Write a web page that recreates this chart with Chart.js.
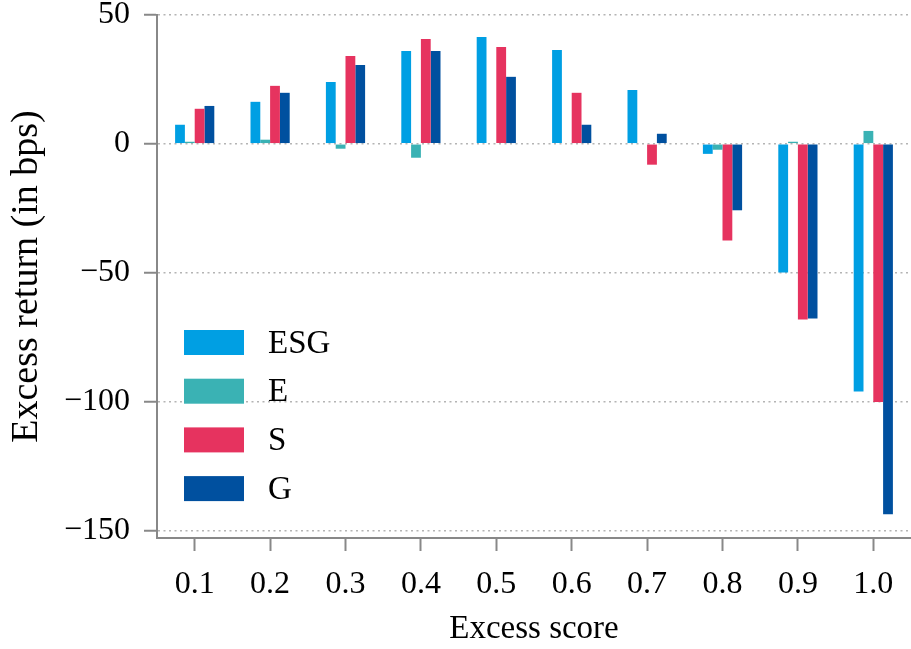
<!DOCTYPE html>
<html>
<head>
<meta charset="utf-8">
<script src="https://cdn.jsdelivr.net/npm/chart.js@4.4.0/dist/chart.umd.min.js"></script>
<style>
  html, body { margin: 0; padding: 0; background: #fff; }
  #wrap { position: relative; width: 911px; height: 649px; }
</style>
</head>
<body>
<div id="wrap"><canvas id="chart" width="911" height="649"></canvas></div>
<script>
// excess score buckets
const scores = ["0.1", "0.2", "0.3", "0.4", "0.5", "0.6", "0.7", "0.8", "0.9", "1.0"];

// excess return in bps
const esg = [7.4, 16.3, 24.0, 36.0, 41.5, 36.4, 20.9, -3.9, -49.9, -96.1];
const env = [0.8, 1.6, -1.9, -5.4, -0.3, -0.3, -0.3, -2.3, 0.8, 5.0];
const soc = [13.6, 22.5, 34.1, 40.7, 37.6, 19.8, -8.1, -37.5, -68.2, -100.2];
const gov = [14.7, 19.8, 30.6, 36.0, 26.0, 7.4, 3.9, -25.8, -67.8, -143.8];

const seriesNames = ["ESG", "E", "S", "G"];
const seriesColors = ["#009fe3", "#3ab2b4", "#e6335f", "#00509f"];
const yTicks = [50, 0, -50, -100, -150];

const FONT = "'Liberation Serif', 'Times New Roman', serif";
Chart.defaults.font.family = FONT;
Chart.defaults.color = "#000";

// legend drawn inside the plot, lower left
const innerLegend = {
  id: "innerLegend",
  afterDraw(chart) {
    const ctx = chart.ctx;
    const ca = chart.chartArea;
    const x = ca.left + 27;
    let y = ca.bottom - 208;
    ctx.save();
    ctx.font = "33px " + FONT;
    ctx.textBaseline = "middle";
    ctx.textAlign = "left";
    chart.data.datasets.forEach(function(ds) {
      ctx.fillStyle = ds.backgroundColor;
      ctx.fillRect(x, y, 60, 25);
      ctx.fillStyle = "#000";
      ctx.fillText(ds.label, x + 84, y + 14);
      y = y + 48.7;
    });
    ctx.restore();
  }
};

const allValues = [esg, env, soc, gov];
const datasets = allValues.map(function(vals, i) {
  return {
    label: seriesNames[i],
    data: vals,
    backgroundColor: seriesColors[i],
    borderWidth: 0,
    categoryPercentage: 0.52,
    barPercentage: 1.0
  };
});

new Chart(document.getElementById("chart"), {
  type: "bar",
  data: { labels: scores, datasets: datasets },
  options: {
    responsive: false,
    animation: false,
    layout: { padding: { top: 15, right: 0, left: 0, bottom: 0 } },
    plugins: {
      legend: { display: false },
      tooltip: { enabled: false }
    },
    scales: {
      x: {
        afterFit: function(s) { s.height = 111; },
        ticks: { font: { size: 32 }, color: "#000", padding: 14, maxRotation: 0 },
        grid: {
          offset: false,
          drawOnChartArea: false,
          tickLength: 13,
          tickColor: "#888",
          tickWidth: 2
        },
        border: { color: "#888", width: 2 },
        title: {
          display: true,
          text: "Excess score",
          font: { size: 33 },
          color: "#000",
          padding: { top: 0, bottom: 0 }
        }
      },
      y: {
        min: -153,
        max: 50,
        afterBuildTicks: function(s) {
          s.ticks = yTicks.map(function(v) { return { value: v }; });
        },
        afterFit: function(s) {
          s.width = 157;
          s.paddingTop = 0;
          s.paddingBottom = 0;
        },
        ticks: {
          font: { size: 32 },
          color: "#000",
          padding: 14,
          callback: function(v) { return String(v).replace("-", "\u2212"); }
        },
        grid: {
          color: "#b4b4b4",
          lineWidth: 1.5,
          tickColor: "#888",
          tickWidth: 2,
          tickLength: 13,
          tickBorderDash: []
        },
        border: { color: "#888", width: 2, dash: [2, 3.5] },
        title: {
          display: true,
          text: "Excess return (in bps)",
          font: { size: 38 },
          color: "#000",
          padding: { top: 4, bottom: 0 }
        }
      }
    }
  },
  plugins: [innerLegend]
});
</script>
</body>
</html>
